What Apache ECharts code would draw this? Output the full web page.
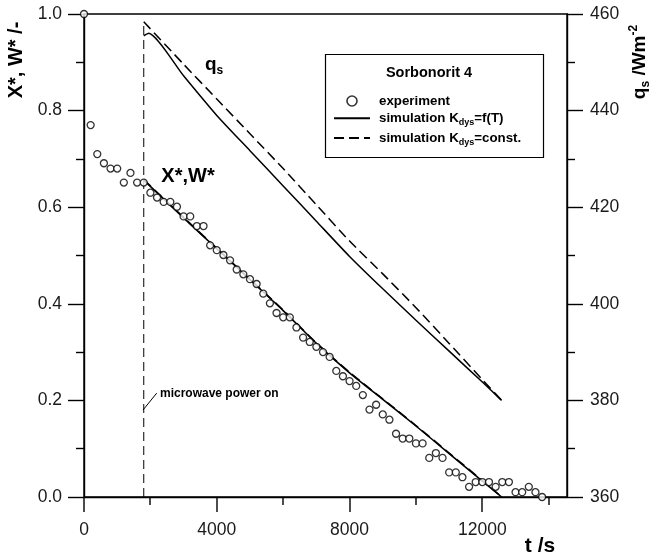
<!DOCTYPE html>
<html>
<head>
<meta charset="utf-8">
<script src="https://cdn.jsdelivr.net/npm/echarts@6/dist/echarts.min.js"></script>
<style>html,body{margin:0;padding:0;background:#fff;}#c{width:652px;height:560px;}</style>
</head>
<body>
<div id="c"></div>
<script>
// ---- data ----
var expT = [0,200,400,600,800,1000,1200,1400,1600,1800,2000,2200,2400,2600,2800,3000,3200,3400,3600,3800,
  4000,4200,4400,4600,4800,5000,5200,5400,5600,5800,6000,6200,6400,6600,6800,7000,7200,7400,7600,7800,
  8000,8200,8400,8600,8800,9000,9200,9400,9600,9800,10000,10200,10400,10600,10800,11000,11200,11400,11600,11800,
  12000,12200,12400,12600,12800,13000,13200,13400,13600,13800];
var expX = [1.0,0.770,0.710,0.691,0.680,0.680,0.651,0.671,0.651,0.651,0.630,0.620,0.611,0.611,0.601,0.581,0.581,0.561,0.561,0.521,
  0.511,0.501,0.490,0.471,0.461,0.451,0.441,0.421,0.401,0.381,0.372,0.372,0.351,0.330,0.321,0.311,0.300,0.290,0.261,0.250,
  0.240,0.230,0.211,0.181,0.191,0.171,0.160,0.131,0.121,0.121,0.111,0.111,0.081,0.091,0.081,0.051,0.051,0.041,0.021,0.031,
  0.031,0.031,0.021,0.031,0.031,0.010,0.010,0.021,0.010,0.0];

var simT = [1800,3000,4000,5000,6000,7000,8000,9000,10000,11000,12000,12580];
var simXSolid  = [0.656,0.578,0.514,0.450,0.386,0.318,0.257,0.202,0.147,0.090,0.033,0.000];
var simXDashed = [0.657,0.579,0.515,0.451,0.387,0.319,0.258,0.203,0.148,0.091,0.034,0.000];

var qSolidT = [1800,1950,3000,4000,5000,6000,7000,8000,9000,10000,11000,12000,12580];
var qSolid  = [455.5,456.0,447.2,439.0,431.7,424.4,417.1,409.8,403.1,396.6,390.2,383.8,380.0];
var qDashedT = [1800,3000,4000,5000,6000,7000,8000,9000,10000,11000,12000,12580];
var qDashed  = [458.4,449.6,442.4,435.2,428.0,420.5,413.0,406.2,399.2,391.8,384.3,380.0];

var powerOnT = [1800,1800];
var powerOnX = [0.0,0.985];
var pointerT = [1777,2190];
var pointerX = [0.180,0.215];

var xMajorTicks = [0,4000,8000,12000];
var xMinorTicks = [2000,6000,10000,14000];
var xMax = 14550;

function pairs(a,b){ var r=[]; for(var i=0;i<a.length;i++) r.push([a[i],b[i]]); return r; }

var FONT = 'Liberation Sans, Arial, Helvetica, sans-serif';
var chart = echarts.init(document.getElementById('c'), null, {renderer:'canvas'});

var AXW = 1.4;
var axisLineStyle = {color:'#000', width:AXW};
var graphics = [
    {type:'rect', z:1, shape:{x:325.5, y:54.5, width:218, height:103}, style:{fill:'#fff', stroke:'#000', lineWidth:1.2}},
    {type:'text', z:10, x:429, y:73.3, style:{text:'Sorbonorit 4', font:'bold 14.5px '+FONT, fill:'#000', align:'center', verticalAlign:'middle'}},
    {type:'text', z:10, x:16, y:60, rotation:Math.PI/2, style:{text:'X*, W* /-', font:'bold 20px '+FONT, fill:'#000', align:'center', verticalAlign:'middle'}},
    {type:'text', z:10, x:640, y:62, rotation:Math.PI/2, style:{
      text:'{m|q}{s|s}{m| /Wm}{p|-2}', align:'center', verticalAlign:'middle',
      rich:{
        m:{fontSize:19, fontWeight:'bold', fontFamily:FONT, color:'#000', lineHeight:24},
        s:{fontSize:12, fontWeight:'bold', fontFamily:FONT, color:'#000', lineHeight:12, verticalAlign:'bottom'},
        p:{fontSize:12, fontWeight:'bold', fontFamily:FONT, color:'#000', lineHeight:12, verticalAlign:'top'}
      }}},
    {type:'text', z:10, x:540, y:546, style:{text:'t /s', font:'bold 21px '+FONT, fill:'#000', align:'center', verticalAlign:'middle'}},
    {type:'text', z:10, x:188, y:176, style:{text:'X*,W*', font:'bold 20px '+FONT, fill:'#000', align:'center', verticalAlign:'middle'}},
    {type:'text', z:10, x:205, y:65, style:{
      text:'{m|q}{s|s}', align:'left', verticalAlign:'middle',
      rich:{
        m:{fontSize:19, fontWeight:'bold', fontFamily:FONT, color:'#000', lineHeight:24},
        s:{fontSize:12, fontWeight:'bold', fontFamily:FONT, color:'#000', lineHeight:12, verticalAlign:'bottom'}
      }}},
    {type:'text', z:10, x:160, y:393.3, style:{text:'microwave power on', font:'bold 12px '+FONT, fill:'#000', align:'left', verticalAlign:'middle'}}
];

var option = {
  animation:false,
  backgroundColor:'#fff',
  grid:{left:84, right:85, top:14, bottom:63, show:true, borderColor:'#000', borderWidth:AXW, backgroundColor:'transparent'},
  xAxis:{type:'value', min:0, max:xMax, position:'bottom',
     axisLine:{show:true, onZero:false, lineStyle:axisLineStyle},
     axisTick:{show:false},
     axisLabel:{show:true, customValues:xMajorTicks, margin:24, fontSize:17.5, fontFamily:FONT, color:'#1a1a1a', formatter:function(v){return String(v);}},
     splitLine:{show:false}},
  yAxis:[
    {type:'value', min:0, max:1, interval:0.2, position:'left',
     axisLine:{show:true, onZero:false, lineStyle:axisLineStyle},
     axisTick:{show:true, length:16, lineStyle:axisLineStyle},
     minorTick:{show:true, splitNumber:2, length:8, lineStyle:axisLineStyle},
     axisLabel:{margin:22, fontSize:17.5, fontFamily:FONT, color:'#1a1a1a', formatter:function(v){return v.toFixed(1);}},
     splitLine:{show:false}, minorSplitLine:{show:false}},
    {type:'value', min:360, max:460, interval:20, position:'right',
     axisLine:{show:true, onZero:false, lineStyle:axisLineStyle},
     axisTick:{show:true, length:16, lineStyle:axisLineStyle},
     minorTick:{show:true, splitNumber:2, length:8, lineStyle:axisLineStyle},
     axisLabel:{margin:23, fontSize:17.5, fontFamily:FONT, color:'#1a1a1a'},
     splitLine:{show:false}, minorSplitLine:{show:false}}
  ],
  legend:{
    orient:'vertical', left:333, top:94.5, padding:0, itemWidth:36, itemHeight:10, itemGap:4.2,
    selectedMode:false,
    data:[
      {name:'experiment', icon:'circle', itemStyle:{color:'#fff', borderColor:'#000', borderWidth:1.6}},
      {name:'solid', itemStyle:{color:'transparent', borderColor:'transparent', borderWidth:0}},
      {name:'dashed', itemStyle:{color:'transparent', borderColor:'transparent', borderWidth:0}}
    ],
    formatter:function(n){
      if(n==='experiment') return '{m|experiment}';
      if(n==='solid') return '{m|simulation K}{s|dys}{m|=f(T)}';
      return '{m|simulation K}{s|dys}{m|=const.}';
    },
    textStyle:{padding:[0,0,0,4], rich:{
      m:{fontSize:13.3, fontWeight:'bold', fontFamily:FONT, color:'#000', lineHeight:18},
      s:{fontSize:9, fontWeight:'bold', fontFamily:FONT, color:'#000', lineHeight:10, verticalAlign:'bottom'}
    }}
  },
  series:[
    {name:'experiment', type:'scatter', yAxisIndex:0, data:pairs(expT,expX),
     symbol:'circle', symbolSize:7, itemStyle:{color:'#fff', borderColor:'#000', borderWidth:1.3}, z:5},
    {name:'solid', type:'line', yAxisIndex:0, data:pairs(simT,simXSolid), smooth:0.2,
     symbol:'none', itemStyle:{color:'#000'}, lineStyle:{color:'#000', width:1.6, type:'solid'}, z:3},
    {name:'dashed', type:'line', yAxisIndex:0, data:pairs(simT,simXDashed), smooth:0.2,
     symbol:'none', itemStyle:{color:'#000'}, lineStyle:{color:'#000', width:1.6, type:[10,5]}, z:3},
    {name:'solid', type:'line', yAxisIndex:1, data:pairs(qSolidT,qSolid), smooth:0.2,
     symbol:'none', itemStyle:{color:'#000'}, lineStyle:{color:'#000', width:1.5, type:'solid'}, z:3},
    {name:'dashed', type:'line', yAxisIndex:1, data:pairs(qDashedT,qDashed), smooth:0.2,
     symbol:'none', itemStyle:{color:'#000'}, lineStyle:{color:'#000', width:1.5, type:[10,5]}, z:3},
    {name:'powerOn', type:'line', yAxisIndex:0, data:pairs(powerOnT,powerOnX),
     symbol:'none', lineStyle:{color:'#000', width:1, type:[9,5]}, z:2},
    {name:'pointer', type:'line', yAxisIndex:0, data:pairs(pointerT,pointerX),
     symbol:'none', lineStyle:{color:'#000', width:1}, z:2}
  ],
  graphic:graphics
};
chart.setOption(option);

// x-axis ticks placed through the axis scale (major long, minor short, outward)
var y0 = chart.convertToPixel({yAxisIndex:0}, 0);
function addTicks(vals, len){
  vals.forEach(function(v){
    var px = Math.round(chart.convertToPixel({xAxisIndex:0}, v));
    graphics.push({type:'line', z:10, shape:{x1:px, y1:y0, x2:px, y2:y0+len}, style:{stroke:'#000', lineWidth:AXW}});
  });
}
addTicks(xMajorTicks, 15);
addTicks(xMinorTicks, 8);
chart.setOption({graphic:graphics}, {replaceMerge:['graphic']});
</script>
</body>
</html>
